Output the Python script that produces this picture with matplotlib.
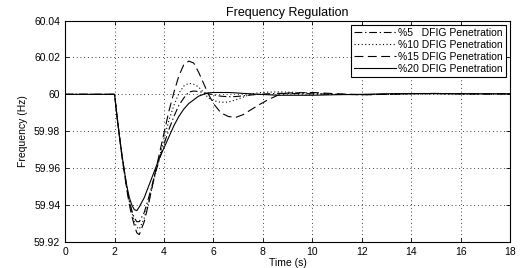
import numpy as np
import matplotlib.pyplot as plt

plt.rcParams['font.family'] = ['Liberation Sans', 'DejaVu Sans']
plt.rcParams['font.size'] = 7.5

# time samples (s)
t = [0, 2, 2.1, 2.2, 2.3, 2.4, 2.5, 2.6, 2.7, 2.8, 2.9, 3.0, 3.2, 3.4, 3.6, 3.8,
     4.0, 4.2, 4.4, 4.6, 4.8, 5.0, 5.2, 5.4, 5.6, 5.8, 6.0, 6.3, 6.6, 6.9, 7.2,
     7.5, 7.8, 8.2, 8.6, 9, 10, 11, 12, 13, 14, 15, 16, 17, 18]

f_5 = [60, 60, 59.988, 59.977, 59.967, 59.958, 59.949, 59.942, 59.937, 59.933, 59.931,
       59.931, 59.936, 59.945, 59.955, 59.964, 59.973, 59.981, 59.988, 59.994, 59.998,
       60.0012, 60.0018, 60.0015, 60.001, 60.0003, 59.9997, 59.999, 59.9987, 59.9988,
       59.9992, 59.9996, 60.0, 60.0003, 60.0005, 60.0005, 60.0003, 60.0, 59.9998, 60.0,
       60.0004, 60.0004, 60.0003, 60.0003, 60.0003]

f_10 = [60, 60, 59.988, 59.977, 59.967, 59.958, 59.949, 59.942, 59.936, 59.931, 59.928,
        59.927, 59.933, 59.943, 59.954, 59.965, 59.976, 59.986, 59.994, 60.0005, 60.0045,
        60.006, 60.0055, 60.004, 60.001, 59.998, 59.9965, 59.9957, 59.9958, 59.997,
        59.9985, 60.0, 60.0008, 60.0012, 60.0013, 60.0012, 60.0007, 60.0, 59.9998, 60.0,
        60.0003, 60.0004, 60.0003, 60.0002, 60.0002]

f_15 = [60, 60, 59.988, 59.977, 59.966, 59.957, 59.948, 59.940, 59.934, 59.929, 59.925,
        59.924, 59.931, 59.942, 59.955, 59.967, 59.979, 59.991, 60.001, 60.010, 60.016,
        60.018, 60.017, 60.012, 60.006, 60.000, 59.995, 59.990, 59.988, 59.9875, 59.989,
        59.9915, 59.994, 59.997, 59.9995, 60.0007, 60.001, 60.0003, 59.9998, 60.0,
        60.0004, 60.0005, 60.0003, 60.0002, 60.0003]

f_20 = [60, 60, 59.988, 59.977, 59.967, 59.958, 59.950, 59.944, 59.940, 59.9375, 59.937,
        59.939, 59.944, 59.951, 59.958, 59.965, 59.971, 59.977, 59.983, 59.988, 59.992,
        59.995, 59.997, 59.999, 60.0, 60.0008, 60.001, 60.001, 60.001, 60.0008, 60.0005,
        60.0003, 60.0, 59.9998, 59.9995, 59.9995, 59.9995, 59.9998, 60.0, 60.0003,
        60.0004, 60.0004, 60.0003, 60.0003, 60.0003]

fig = plt.figure(figsize=(5.21, 2.68), dpi=100)
ax = fig.add_axes([0.125, 0.097, 0.854, 0.8265])

ax.plot(t, f_5, color='black', linestyle=(0, (7, 2.5, 1.2, 2.5)), linewidth=0.8,
        label='%5   DFIG Penetration')
ax.plot(t, f_10, color='black', linestyle=(0, (1, 2.2)), linewidth=0.8,
        label='%10 DFIG Penetration')
ax.plot(t, f_15, color='black', linestyle=(0, (8, 4)), linewidth=0.8,
        label='%15 DFIG Penetration')
ax.plot(t, f_20, color='black', linestyle='-', linewidth=0.8,
        label='%20 DFIG Penetration')

ax.set_xlim(0, 18)
ax.set_ylim(59.92, 60.04)
ax.set_xticks(np.arange(0, 19, 2))
ax.set_yticks([59.92, 59.94, 59.96, 59.98, 60, 60.02, 60.04])
ax.set_yticklabels(['59.92', '59.94', '59.96', '59.98', '60', '60.02', '60.04'])
ax.tick_params(direction='in', length=3, width=0.6, top=True, right=True)
ax.grid(True, color='black', linestyle=(0, (1, 3.5)), linewidth=0.6)
for s in ax.spines.values():
    s.set_linewidth(0.8)

ax.set_xlabel('Time (s)', labelpad=1)
ax.set_ylabel('Frequency (Hz)')
ax.set_title('Frequency Regulation', pad=3)

leg = ax.legend(loc='upper right', handlelength=4, fancybox=False, edgecolor='black',
                framealpha=1, borderaxespad=0.4, labelspacing=0.2, handletextpad=0.2,
                borderpad=0.3)
leg.get_frame().set_linewidth(0.8)

fig.savefig('out.png', dpi=100)
